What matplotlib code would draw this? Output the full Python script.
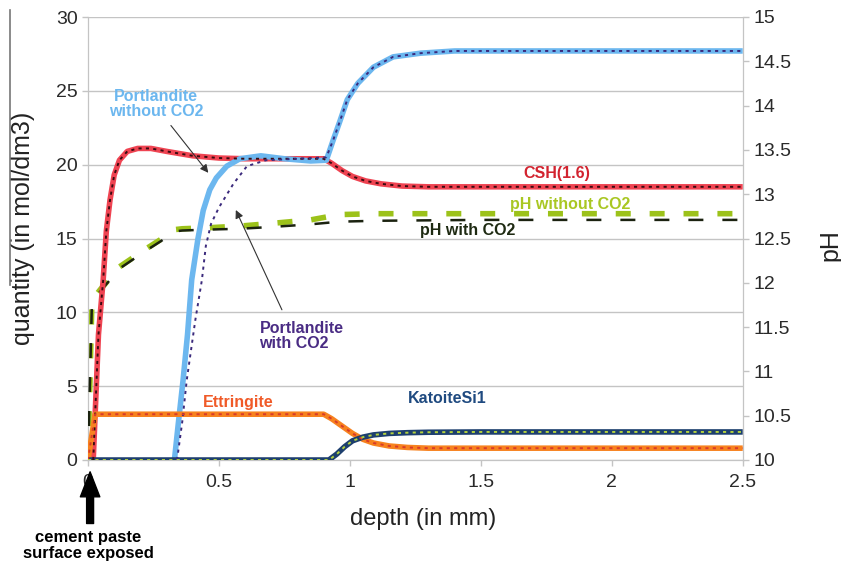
import matplotlib
matplotlib.use('Agg')
import matplotlib.pyplot as plt
from matplotlib.lines import Line2D

plt.rcParams['font.family'] = ['Liberation Sans', 'DejaVu Sans']

# depth in mm, quantities in mol/dm3, pH on the right axis
csh_x = [0.02, 0.04, 0.058, 0.07, 0.084, 0.1, 0.12, 0.15, 0.19, 0.24, 0.3, 0.4, 0.5, 0.6, 0.75,
         0.9, 0.93, 0.97, 1.01, 1.06, 1.12, 1.2, 1.3, 1.5, 2.0, 2.5]
csh_y = [0, 8.5, 12.2, 15.5, 17.6, 19.3, 20.3, 20.9, 21.1, 21.1, 20.9, 20.6, 20.45, 20.4, 20.4,
         20.4, 20.1, 19.6, 19.2, 18.9, 18.7, 18.55, 18.5, 18.5, 18.5, 18.5]

port_x = [0.33, 0.345, 0.363, 0.38, 0.396, 0.42, 0.44, 0.465, 0.49, 0.53, 0.58, 0.66, 0.75, 0.85,
          0.91, 0.937, 0.963, 0.99, 1.03, 1.09, 1.165, 1.27, 1.4, 1.6, 2.0, 2.5]
port_y = [0, 2.5, 5.4, 8.5, 12.2, 15.0, 16.9, 18.3, 19.1, 19.9, 20.4, 20.6, 20.4, 20.25,
          20.3, 21.7, 23.0, 24.4, 25.5, 26.6, 27.3, 27.55, 27.7, 27.7, 27.7, 27.7]

portco2_x = [0.34, 0.36, 0.377, 0.41, 0.435, 0.45, 0.47, 0.5, 0.555, 0.607, 0.68, 0.8, 0.91,
             0.937, 0.963, 0.99, 1.03, 1.09, 1.165, 1.27, 1.4, 1.6, 2.0, 2.5]
portco2_y = [0, 2.6, 5.4, 9.5, 12.2, 14.5, 16.0, 17.1, 18.7, 19.9, 20.3, 20.4, 20.5,
             21.7, 23.0, 24.4, 25.5, 26.6, 27.3, 27.55, 27.7, 27.7, 27.7, 27.7]

ett_x = [0.0, 0.027, 0.1, 0.5, 0.9, 0.93, 0.97, 1.01, 1.05, 1.09, 1.15, 1.22, 1.3, 1.5, 2.0, 2.5]
ett_y = [0.0, 3.1, 3.1, 3.1, 3.1, 2.8, 2.3, 1.8, 1.4, 1.15, 0.95, 0.85, 0.8, 0.8, 0.8, 0.8]

kat_x = [0.0, 0.5, 0.92, 0.95, 0.98, 1.01, 1.05, 1.09, 1.15, 1.22, 1.3, 1.5, 2.0, 2.5]
kat_y = [0, 0, 0, 0.4, 0.9, 1.3, 1.55, 1.7, 1.8, 1.85, 1.88, 1.9, 1.9, 1.9]

ph_x = [0.0, 0.015, 0.046, 0.12, 0.22, 0.31, 0.33, 0.36, 0.45, 0.58, 0.7, 0.85, 0.96, 1.1,
        1.5, 2.0, 2.5]
ph_noco2 = [10.0, 11.8, 11.92, 12.18, 12.38, 12.55, 12.6, 12.61, 12.62, 12.64, 12.67, 12.71,
            12.77, 12.78, 12.78, 12.78, 12.78]
ph_co2 = [10.0, 11.78, 11.9, 12.16, 12.36, 12.53, 12.58, 12.59, 12.6, 12.61, 12.63, 12.66,
          12.69, 12.7, 12.71, 12.71, 12.71]

x_ticks = [0, 0.5, 1, 1.5, 2, 2.5]
x_labels = ['0', '0.5', '1', '1.5', '2', '2.5']
y_ticks = [0, 5, 10, 15, 20, 25, 30]
ph_ticks = [10, 10.5, 11, 11.5, 12, 12.5, 13, 13.5, 14, 14.5, 15]
ph_labels = ['10', '10.5', '11', '11.5', '12', '12.5', '13', '13.5', '14', '14.5', '15']

grey = '#c4c4c4'
lab_fs = 11.5
fig = plt.figure(figsize=(8.41, 5.62), dpi=100)
ax = fig.add_axes([88/841, 1-460/562, (742.7-88)/841, (460-17)/562])
ax2 = ax.twinx()

# pH curves (right axis)
ax2.plot(ph_x, ph_noco2, color='#9cc21a', lw=4, dashes=(2.7, 3.4), zorder=2)
ax2.plot(ph_x, ph_co2, color='#1b2210', lw=1.8, dashes=(6, 7.6), zorder=3)

# quantities (left axis) drawn on ax2 via transform so they sit on top
tr = ax.transData
ax2.plot(csh_x, csh_y, color='#ef4452', lw=4, transform=tr, zorder=4, solid_capstyle='butt')
ax2.plot(csh_x, csh_y, color='#3a0a10', lw=1.4, dashes=(1.6, 2.2), transform=tr, zorder=5)
ax2.plot(port_x, port_y, color='#6cb7ef', lw=4, transform=tr, zorder=4, solid_capstyle='butt')
ax2.plot(portco2_x, portco2_y, color='#3b2a7c', lw=1.4, dashes=(1.6, 2.2), transform=tr, zorder=5)
ax2.plot(ett_x, ett_y, color='#f7821f', lw=4, transform=tr, zorder=4, solid_capstyle='butt')
ax2.plot(ett_x, ett_y, color='#d83a2a', lw=1.4, dashes=(1.6, 2.2), transform=tr, zorder=5)
ax2.plot(kat_x, kat_y, color='#1d3f6e', lw=4, transform=tr, zorder=4, solid_capstyle='butt')
ax2.plot(kat_x, kat_y, color='#b4d23c', lw=1.4, dashes=(1.6, 2.2), transform=tr, zorder=5)

ax.set_xlim(0, 2.5)
ax.set_ylim(0, 30)
ax2.set_ylim(10, 15)
ax.set_xticks(x_ticks)
ax.set_xticklabels(x_labels)
ax.set_yticks(y_ticks)
ax2.set_yticks(ph_ticks)
ax2.set_yticklabels(ph_labels)
ax.grid(axis='y', color=grey, lw=1)
ax.set_axisbelow(True)

for a in (ax, ax2):
    for s in a.spines.values():
        s.set_color(grey)
    a.spines['top'].set_visible(False)
    a.tick_params(colors=grey, labelcolor='#2a2a2a', labelsize=14, length=4, width=1)
ax.tick_params(axis='x', pad=6)

ax.set_xlabel('depth (in mm)', fontsize=17, color='#222222')
ax.xaxis.set_label_coords((423-88)/654.7, -0.108)
ax.set_ylabel('quantity (in mol/dm3)', fontsize=18, color='#222222')
ax.yaxis.set_label_coords(-(88-35)/654.7, (460-228)/443)
ax2.set_ylabel('pH', fontsize=18, color='#222222', rotation=90)
ax2.yaxis.set_label_coords(1+(818-742.7)/654.7, (460-245)/443)

# stray rule beside the y label in the source image
fig.add_artist(Line2D([10/841, 10/841], [1-10/562, 1-285/562], color='#777777', lw=1.2))

# series labels
ax2.text(0.26, 24.1, 'Portlandite\nwithout CO2', color='#6cb7ef', fontsize=lab_fs, fontweight='bold',
         ha='center', va='center', transform=tr, linespacing=1.05)
ax2.text(0.655, 8.4, 'Portlandite\nwith CO2', color='#4a2c84', fontsize=lab_fs, fontweight='bold',
         ha='left', va='center', transform=tr, linespacing=1.05)
ax2.text(1.79, 19.4, 'CSH(1.6)', color='#d2232f', fontsize=lab_fs, fontweight='bold',
         ha='center', va='center', transform=tr)
ax2.text(1.84, 17.3, 'pH without CO2', color='#a9c723', fontsize=lab_fs, fontweight='bold',
         ha='center', va='center', transform=tr)
ax2.text(1.45, 15.55, 'pH with CO2', color='#1e2a12', fontsize=lab_fs, fontweight='bold',
         ha='center', va='center', transform=tr)
ax2.text(0.575, 3.9, 'Ettringite', color='#f05a28', fontsize=lab_fs, fontweight='bold',
         ha='center', va='center', transform=tr)
ax2.text(1.37, 4.15, 'KatoiteSi1', color='#1f4a80', fontsize=lab_fs, fontweight='bold',
         ha='center', va='center', transform=tr)

# pointer arrows
ax2.annotate('', xy=(0.466, 19.3), xytext=(0.31, 22.8), xycoords=tr, textcoords=tr,
             arrowprops=dict(arrowstyle='-|>', color='#333333', lw=0.8, mutation_scale=12), zorder=6)
ax2.annotate('', xy=(0.56, 17.1), xytext=(0.745, 10.0), xycoords=tr, textcoords=tr,
             arrowprops=dict(arrowstyle='-|>', color='#333333', lw=0.8, mutation_scale=12), zorder=6)

# exposed surface marker
ax.annotate('', xy=(0.008, -0.8), xytext=(0.008, -4.3), annotation_clip=False,
            arrowprops=dict(width=5, headwidth=14, headlength=18, facecolor='black', edgecolor='black'))
ax.text(0.0, -5.8, 'cement paste\nsurface exposed', fontsize=12, fontweight='bold',
        ha='center', va='center', linespacing=1.05, clip_on=False)

fig.savefig('out.png', dpi=100)
